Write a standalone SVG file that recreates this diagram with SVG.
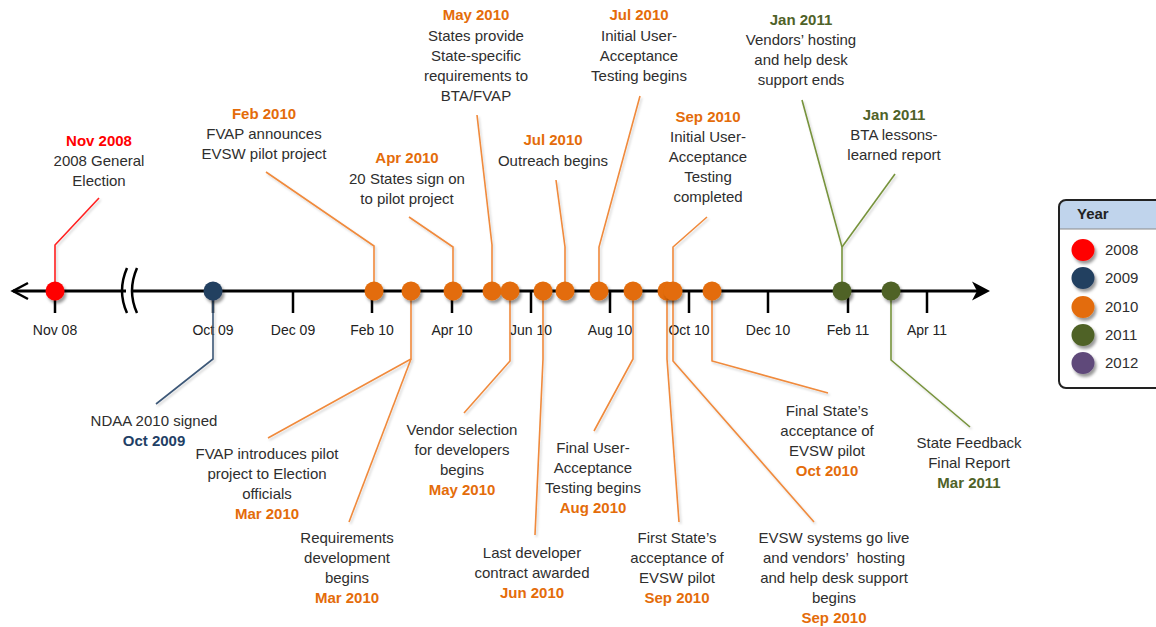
<svg xmlns="http://www.w3.org/2000/svg" width="1156" height="627" viewBox="0 0 1156 627">
<defs>
<filter id="sh" x="-50%" y="-50%" width="200%" height="200%"><feDropShadow dx="2" dy="3" stdDeviation="1.8" flood-color="#000" flood-opacity="0.4"/></filter>
<filter id="lsh" x="-20%" y="-20%" width="140%" height="140%"><feDropShadow dx="1.5" dy="2" stdDeviation="1" flood-color="#000" flood-opacity="0.18"/></filter>
</defs>
<style>
text{font-family:"Liberation Sans",Arial,sans-serif;font-size:15px;fill:#2e2e2e;text-anchor:middle}
.d{font-weight:bold}
.o{fill:#E46C0A}.r{fill:#FF0000}.n{fill:#1F3F66}.g{fill:#4F6228}
.tk{font-size:14px;fill:#222}
.lo{stroke:#F08A3C}.lr{stroke:#FF2020}.ln{stroke:#3D5878}.lg{stroke:#77933C}
#connectors polyline{fill:none;stroke-width:1.6}
.dot{filter:url(#sh)}
.cr{fill:#FF0000}.cn{fill:#243F60}.co{fill:#E36C09}.cg{fill:#4F6228}.cp{fill:#5F497A}
.lt{text-anchor:start}
</style>
<rect width="1156" height="627" fill="#fff"/>
<g id="axis" stroke="#000" fill="none">
<line x1="13" y1="291" x2="126" y2="291" stroke-width="3"/>
<line x1="132" y1="291" x2="980" y2="291" stroke-width="3"/>
<path d="M28,283 L13,291 L28,299" stroke-width="2.5"/>
<polygon points="990,291 972,281.5 977,291 972,300.5" fill="#000" stroke="none"/>
<path d="M127,268 Q117,291 127,313" stroke-width="2.5"/>
<path d="M137,268 Q127,291 137,313" stroke-width="2.5"/>
<g stroke-width="2.5">
<line x1="55" y1="291" x2="55" y2="313"/><line x1="213" y1="291" x2="213" y2="313"/>
<line x1="293" y1="291" x2="293" y2="313"/><line x1="372" y1="291" x2="372" y2="313"/>
<line x1="452" y1="291" x2="452" y2="313"/><line x1="531" y1="291" x2="531" y2="313"/>
<line x1="610" y1="291" x2="610" y2="313"/><line x1="689" y1="291" x2="689" y2="313"/>
<line x1="768" y1="291" x2="768" y2="313"/><line x1="848" y1="291" x2="848" y2="313"/>
<line x1="927" y1="291" x2="927" y2="313"/>
</g>
</g>
<g id="tick-labels">
<text class="tk" x="55" y="335">Nov 08</text><text class="tk" x="213" y="335">Oct 09</text>
<text class="tk" x="293" y="335">Dec 09</text><text class="tk" x="372" y="335">Feb 10</text>
<text class="tk" x="452" y="335">Apr 10</text><text class="tk" x="531" y="335">Jun 10</text>
<text class="tk" x="610" y="335">Aug 10</text><text class="tk" x="689" y="335">Oct 10</text>
<text class="tk" x="768" y="335">Dec 10</text><text class="tk" x="848" y="335">Feb 11</text>
<text class="tk" x="927" y="335">Apr 11</text>
</g>
<g id="connectors" filter="url(#lsh)">
<polyline class="lr" points="55,291 55,245 99,198"/>
<polyline class="lo" points="374,291 374,246 266,172"/>
<polyline class="lo" points="453,291 453,247 409,217"/>
<polyline class="lo" points="492,291 492,245 477,115"/>
<polyline class="lo" points="599,291 599,247 640,96"/>
<polyline class="lo" points="565,291 565,247 556,180"/>
<polyline class="lo" points="673,291 673,247 707,217"/>
<polyline class="lg" points="842,291 842,247 802,100"/>
<polyline class="lg" points="842,247 895,174"/>
<polyline class="ln" points="213,291 213,359 156,404"/>
<polyline class="lo" points="411,291 411,359 268,438"/>
<polyline class="lo" points="411,359 349,522"/>
<polyline class="lo" points="510,291 510,361 464,413"/>
<polyline class="lo" points="543,291 543,359 535,535"/>
<polyline class="lo" points="633,291 633,359 594,431"/>
<polyline class="lo" points="667,291 667,359 679,522"/>
<polyline class="lo" points="673,291 673,361 814,522"/>
<polyline class="lo" points="712,291 712,361 828,393"/>
<polyline class="lg" points="891,291 891,360 970,427"/>
</g>
<g id="ev-nov2008"><circle class="dot cr" cx="55" cy="291" r="9.5"/>
<text class="d r" x="99" y="146">Nov 2008</text><text x="99" y="166">2008 General</text><text x="99" y="186">Election</text></g>
<g id="ev-oct2009"><circle class="dot cn" cx="213" cy="291" r="9.5"/>
<text x="154" y="426">NDAA 2010 signed</text><text class="d n" x="154" y="446">Oct 2009</text></g>
<g id="ev-feb2010"><circle class="dot co" cx="374" cy="291" r="9.5"/>
<text class="d o" x="264" y="119">Feb 2010</text><text x="264" y="139">FVAP announces</text><text x="264" y="159">EVSW pilot project</text></g>
<g id="ev-mar2010"><circle class="dot co" cx="411" cy="291" r="9.5"/>
<text x="267" y="459">FVAP introduces pilot</text><text x="267" y="479">project to Election</text><text x="267" y="499">officials</text><text class="d o" x="267" y="519">Mar 2010</text>
<text x="347" y="543">Requirements</text><text x="347" y="563">development</text><text x="347" y="583">begins</text><text class="d o" x="347" y="603">Mar 2010</text></g>
<g id="ev-apr2010"><circle class="dot co" cx="453" cy="291" r="9.5"/>
<text class="d o" x="407" y="163">Apr 2010</text><text x="407" y="184">20 States sign on</text><text x="407" y="204">to pilot project</text></g>
<g id="ev-may2010a"><circle class="dot co" cx="492" cy="291" r="9.5"/>
<text class="d o" x="476" y="20">May 2010</text><text x="476" y="41">States provide</text><text x="476" y="61">State-specific</text><text x="476" y="81">requirements to</text><text x="476" y="101">BTA/FVAP</text></g>
<g id="ev-may2010b"><circle class="dot co" cx="510" cy="291" r="9.5"/>
<text x="462" y="435">Vendor selection</text><text x="462" y="455">for developers</text><text x="462" y="475">begins</text><text class="d o" x="462" y="495">May 2010</text></g>
<g id="ev-jun2010"><circle class="dot co" cx="543" cy="291" r="9.5"/>
<text x="532" y="558">Last developer</text><text x="532" y="578">contract awarded</text><text class="d o" x="532" y="598">Jun 2010</text></g>
<g id="ev-jul2010a"><circle class="dot co" cx="565" cy="291" r="9.5"/>
<text class="d o" x="553" y="145">Jul 2010</text><text x="553" y="166">Outreach begins</text></g>
<g id="ev-jul2010b"><circle class="dot co" cx="599" cy="291" r="9.5"/>
<text class="d o" x="639" y="20">Jul 2010</text><text x="639" y="41">Initial User-</text><text x="639" y="61">Acceptance</text><text x="639" y="81">Testing begins</text></g>
<g id="ev-aug2010"><circle class="dot co" cx="633" cy="291" r="9.5"/>
<text x="593" y="453">Final User-</text><text x="593" y="473">Acceptance</text><text x="593" y="493">Testing begins</text><text class="d o" x="593" y="513">Aug 2010</text></g>
<g id="ev-sep2010a"><circle class="dot co" cx="667" cy="291" r="9.5"/>
<text x="677" y="543">First State’s</text><text x="677" y="563">acceptance of</text><text x="677" y="583">EVSW pilot</text><text class="d o" x="677" y="603">Sep 2010</text></g>
<g id="ev-sep2010b"><circle class="dot co" cx="673" cy="291" r="9.5"/>
<text class="d o" x="708" y="122">Sep 2010</text><text x="708" y="142">Initial User-</text><text x="708" y="162">Acceptance</text><text x="708" y="182">Testing</text><text x="708" y="202">completed</text>
<text x="834" y="543">EVSW systems go live</text><text x="834" y="563" xml:space="preserve">and vendors’  hosting</text><text x="834" y="583">and help desk support</text><text x="834" y="603">begins</text><text class="d o" x="834" y="623">Sep 2010</text></g>
<g id="ev-oct2010"><circle class="dot co" cx="712" cy="291" r="9.5"/>
<text x="827" y="416">Final State’s</text><text x="827" y="436">acceptance of</text><text x="827" y="456">EVSW pilot</text><text class="d o" x="827" y="476">Oct 2010</text></g>
<g id="ev-jan2011"><circle class="dot cg" cx="842" cy="291" r="9.5"/>
<text class="d g" x="801" y="25">Jan 2011</text><text x="801" y="45">Vendors’ hosting</text><text x="801" y="65">and help desk</text><text x="801" y="85">support ends</text>
<text class="d g" x="894" y="120">Jan 2011</text><text x="894" y="140">BTA lessons-</text><text x="894" y="160">learned report</text></g>
<g id="ev-mar2011"><circle class="dot cg" cx="891" cy="291" r="9.5"/>
<text x="969" y="448">State Feedback</text><text x="969" y="468">Final Report</text><text class="d g" x="969" y="488">Mar 2011</text></g>
<g id="legend">
<rect x="1059" y="200" width="110" height="188" rx="7" fill="#fff"/>
<path d="M1059,229 V207 Q1059,200 1066,200 H1170 V229 Z" fill="#C0D4EC"/>
<line x1="1059" y1="229" x2="1160" y2="229" stroke="#8a8a8a" stroke-width="1"/>
<rect x="1059" y="200" width="110" height="188" rx="7" fill="none" stroke="#222" stroke-width="2"/>
<text class="d lt" x="1077" y="219" style="fill:#222">Year</text>
<ellipse class="dot cr" cx="1083" cy="250" rx="11.5" ry="11"/><text class="lt" x="1105" y="255">2008</text>
<ellipse class="dot cn" cx="1083" cy="278" rx="11.5" ry="11"/><text class="lt" x="1105" y="283">2009</text>
<ellipse class="dot co" cx="1083" cy="307" rx="11.5" ry="11"/><text class="lt" x="1105" y="312">2010</text>
<ellipse class="dot cg" cx="1083" cy="335" rx="11.5" ry="11"/><text class="lt" x="1105" y="340">2011</text>
<ellipse class="dot cp" cx="1083" cy="363" rx="11.5" ry="11"/><text class="lt" x="1105" y="368">2012</text>
</g>
</svg>
